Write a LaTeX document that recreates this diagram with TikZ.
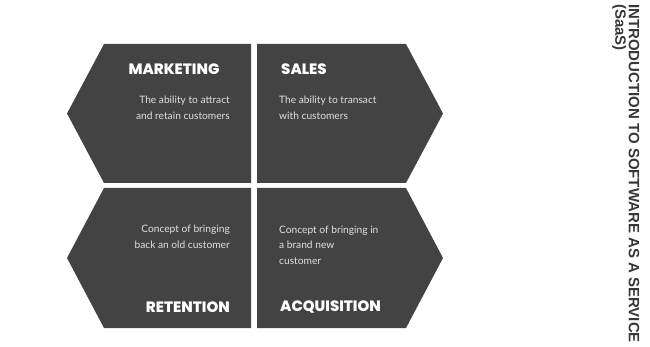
\documentclass[tikz,border=0pt]{standalone}
\usepackage{fontspec}
\newfontfamily\headfont{Poppins ExtraBold}
\newfontfamily\bodyfont{Lato}
\newfontfamily\titlefont{Liberation Sans}
\definecolor{panel}{RGB}{67,67,67}
\definecolor{bodytext}{RGB}{225,225,225}
\definecolor{titlegray}{RGB}{55,55,55}

\begin{document}
\begin{tikzpicture}[
    x=1pt, y=-1pt,
    panel/.style={fill=panel, draw=none},
    head/.style={inner sep=0pt, text=white, font=\headfont\fontsize{15}{15}\selectfont},
    body/.style={inner sep=0pt, text=bodytext, font=\bodyfont\fontsize{10.2}{15.5}\selectfont}
]
\useasboundingbox (0,0) rectangle (650,347);

% Panneaux
\draw[panel] (104,44) -- (251,44) -- (251,183) -- (104,183) -- (67,113.5) -- cycle;
\draw[panel] (257,44) -- (406,44) -- (443,113.5) -- (406,183) -- (257,183) -- cycle;
\draw[panel] (104,188) -- (251,188) -- (251,328) -- (104,328) -- (67,258) -- cycle;
\draw[panel] (257,188) -- (406,188) -- (443,258) -- (406,328) -- (257,328) -- cycle;

% Titres
\node[head] (marketing) at (174,69) {MARKETING};
\node[head, anchor=west] (sales) at (281,69) {SALES};
\node[head, anchor=east] (retention) at (230,307) {RETENTION};
\node[head, anchor=west] (acquisition) at (280,307) {ACQUISITION};

% Descriptions
\node[body, anchor=east, align=right] (attract) at (230,108) {The ability to attract\\and retain customers};
\node[body, anchor=west, align=left] (transact) at (279,108) {The ability to transact\\with customers};
\node[body, anchor=east, align=right] (oldcust) at (230,237) {Concept of bringing\\back an old customer};
\node[body, anchor=west, align=left] (newcust) at (279,245) {Concept of bringing in\\a brand new\\customer};

% Titre vertical
\node[rotate=-90, anchor=north west, inner sep=0pt, align=left, text=titlegray,
      font=\titlefont\bfseries\fontsize{15}{13.5}\selectfont] (saas) at (639.5,4)
      {INTRODUCTION TO SOFTWARE AS A SERVICE\\(SaaS)};

\end{tikzpicture}
\end{document}
